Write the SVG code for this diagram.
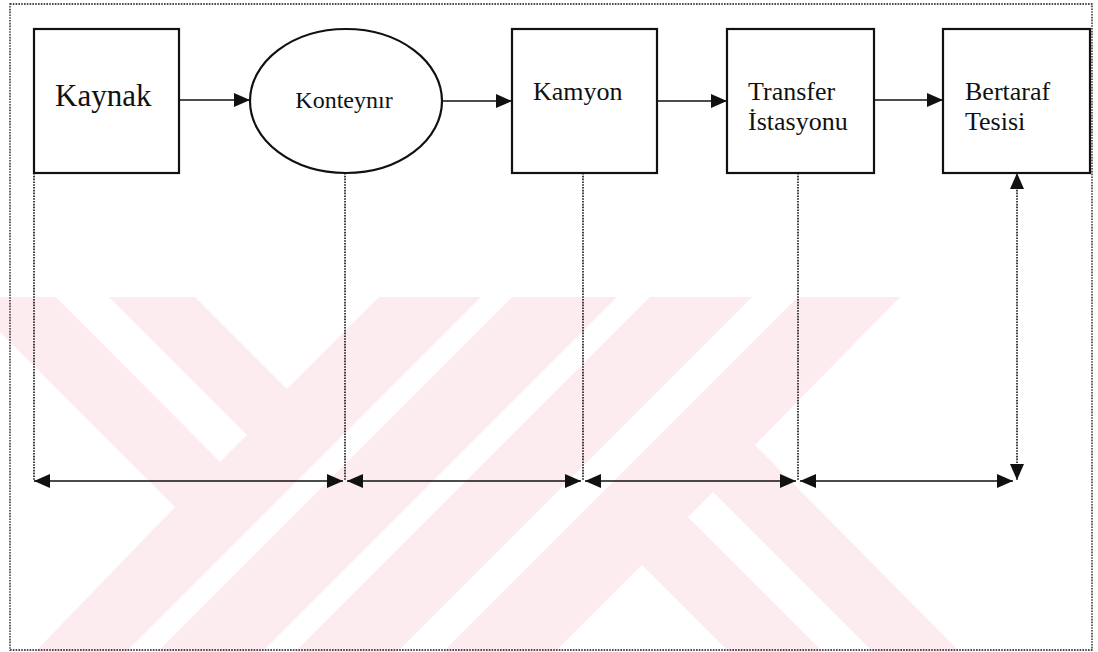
<svg xmlns="http://www.w3.org/2000/svg" width="1098" height="652" viewBox="0 0 1098 652">
<style>
.box{fill:none;stroke:#111;stroke-width:2.2}
.lbl{font-family:"Liberation Serif","Times New Roman",serif;fill:#111}
.arrow{fill:none;stroke:#111;stroke-width:1.6}
.dot{fill:none;stroke:#111;stroke-width:1.6;stroke-dasharray:1.6 1.2}
.wm{fill:#fcebef}
.wmc{fill:#ffffff}
</style>
<defs>
<marker id="ah" viewBox="0 0 16 14" markerWidth="16" markerHeight="14" refX="16" refY="7" orient="auto-start-reverse" markerUnits="userSpaceOnUse">
<path d="M0,0 L16,7 L0,14 z" fill="#111"/>
</marker>
</defs>
<rect width="1098" height="652" fill="#ffffff"/>
<g id="watermark">
<polygon class="wm" points="0,297 900,297 755,445 960,652 0,652"/>
<polygon class="wmc" points="0,332 175,507 35,652 0,652"/>
<polygon class="wmc" points="56,297 109,297 247,435 220,462"/>
<polygon class="wmc" points="195,297 379,297 287,389"/>
<polygon class="wmc" points="481,297 512,297 157,652 126,652"/>
<polygon class="wmc" points="617,297 650,297 295,652 262,652"/>
<polygon class="wmc" points="752,297 798,297 443,652 397,652"/>
<polygon class="wmc" points="555,652 642,565 729,652"/>
<polygon class="wmc" points="688,517 713,492 873,652 823,652"/>
</g>
<rect id="frame" x="10" y="4" width="1082" height="646" class="dot" style="stroke-width:1.3"/>
<g id="connectors">
<line class="arrow" x1="179" y1="100" x2="250" y2="100" marker-end="url(#ah)"/>
<line class="arrow" x1="442" y1="101" x2="512" y2="101" marker-end="url(#ah)"/>
<line class="arrow" x1="657" y1="101" x2="727" y2="101" marker-end="url(#ah)"/>
<line class="arrow" x1="874" y1="100" x2="943" y2="100" marker-end="url(#ah)"/>
<line class="dot" x1="34" y1="173" x2="34" y2="481"/>
<line class="dot" x1="345" y1="173" x2="345" y2="481"/>
<line class="dot" x1="583" y1="173" x2="583" y2="481"/>
<line class="dot" x1="798" y1="173" x2="798" y2="481"/>
<line class="dot" x1="1017" y1="173" x2="1017" y2="480" marker-start="url(#ah)" marker-end="url(#ah)"/>
<line class="arrow" x1="34" y1="481" x2="343" y2="481" marker-start="url(#ah)" marker-end="url(#ah)"/>
<line class="arrow" x1="347" y1="481" x2="581" y2="481" marker-start="url(#ah)" marker-end="url(#ah)"/>
<line class="arrow" x1="585" y1="481" x2="796" y2="481" marker-start="url(#ah)" marker-end="url(#ah)"/>
<line class="arrow" x1="800" y1="481" x2="1013" y2="481" marker-start="url(#ah)" marker-end="url(#ah)"/>
</g>
<g id="kaynak">
<rect class="box" x="34" y="29" width="145" height="144"/>
<text class="lbl" x="55" y="106" font-size="31">Kaynak</text>
</g>
<g id="konteynir">
<ellipse class="box" cx="346" cy="101" rx="96" ry="72"/>
<text class="lbl" x="344" y="108" font-size="24" text-anchor="middle">Konteynır</text>
</g>
<g id="kamyon">
<rect class="box" x="512" y="29" width="145" height="144"/>
<text class="lbl" x="533" y="100" font-size="26">Kamyon</text>
</g>
<g id="transfer">
<rect class="box" x="727" y="29" width="147" height="144"/>
<text class="lbl" x="748" y="100" font-size="26">Transfer</text>
<text class="lbl" x="748" y="130" font-size="26">İstasyonu</text>
</g>
<g id="bertaraf">
<rect class="box" x="943" y="29" width="147" height="144"/>
<text class="lbl" x="965" y="100" font-size="26">Bertaraf</text>
<text class="lbl" x="965" y="130" font-size="26">Tesisi</text>
</g>
</svg>
